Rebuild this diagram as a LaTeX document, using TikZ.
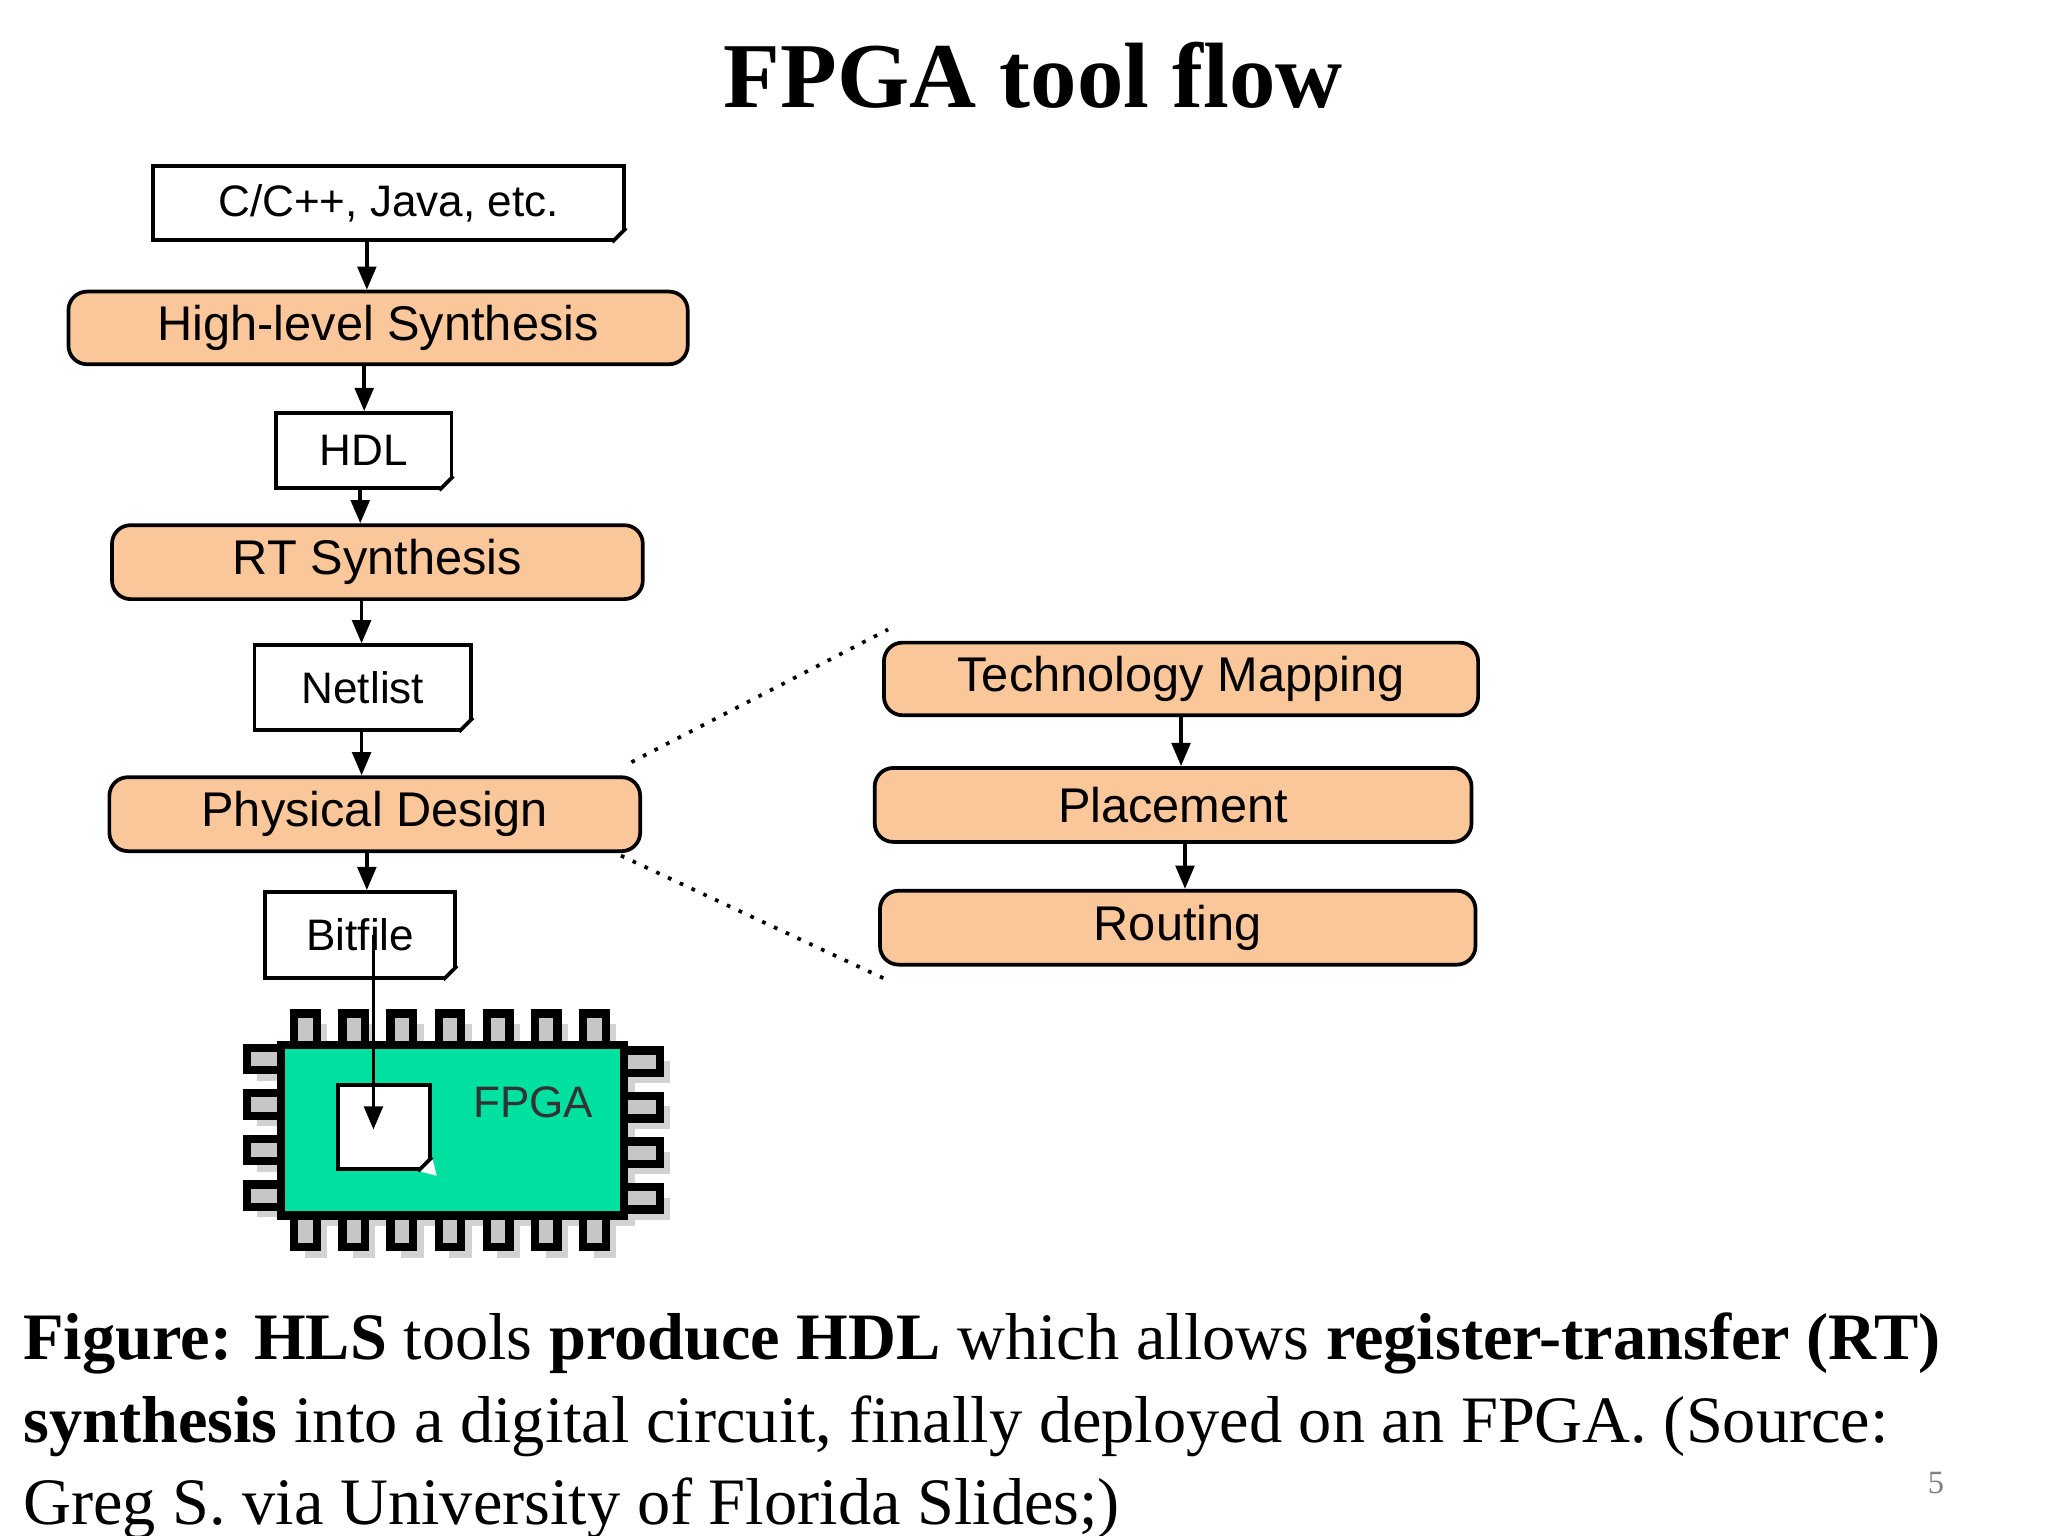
\documentclass[tikz,border=0pt]{standalone}
\usepackage{fontspec}
\setmainfont{Liberation Serif}
\newfontfamily\sansf{Liberation Sans}
\usetikzlibrary{arrows.meta}
\definecolor{org}{HTML}{FAC79A}
\definecolor{chip}{HTML}{00E0A0}
\begin{document}
\begin{tikzpicture}[x=0.01cm,y=-0.01cm,
  doc/.style={draw,thick,fill=white,font=\sansf\fontsize{9.5}{11}\selectfont,inner sep=0},
  stage/.style={draw,thick,fill=org,rounded corners=4,font=\sansf\fontsize{10.5}{12}\selectfont,inner sep=0},
  arr/.style={-{Triangle[length=5pt,width=4pt]},thick},
  pin/.style={draw,line width=1.8pt,fill=gray!45}]
\useasboundingbox (0,0) rectangle (1552,1164);
\node[font=\bfseries\fontsize{20}{24}\selectfont] (title) at (783,57) {FPGA tool flow};
% left chain
\node[doc,minimum width=3.57cm,minimum height=0.56cm] (src) at (294.5,154) {C/C++, Java, etc.};
\node[stage,minimum width=4.69cm,minimum height=0.55cm] (hls) at (286.5,248.5) {High-level Synthesis};
\node[doc,minimum width=1.33cm,minimum height=0.57cm] (hdl) at (275.5,341.5) {HDL};
\node[stage,minimum width=4.02cm,minimum height=0.56cm] (rt) at (286,426) {RT Synthesis};
\node[doc,minimum width=1.64cm,minimum height=0.64cm] (net) at (275,521) {Netlist};
\node[stage,minimum width=4.02cm,minimum height=0.56cm] (pd) at (284,617) {Physical Design};
\node[doc,minimum width=1.44cm,minimum height=0.65cm] (bit) at (273,708.5) {Bitfile};
\foreach \n in {src,hdl,net,bit}{
  \fill[white] ([xshift=-3pt]\n.south east) -- ([yshift=3pt]\n.south east) -- ([xshift=1pt,yshift=-1pt]\n.south east) -- cycle;
  \draw[thick] ([xshift=-3pt]\n.south east) -- ([yshift=3pt]\n.south east);
}
% right chain
\node[stage,minimum width=4.50cm,minimum height=0.55cm] (tm) at (895,514.5) {Technology Mapping};
\node[stage,minimum width=4.52cm,minimum height=0.56cm] (pl) at (889,610) {Placement};
\node[stage,minimum width=4.51cm,minimum height=0.56cm] (ro) at (892.5,703) {Routing};
% arrows
\draw[arr] (src.south -| 278,0) -- (hls.north -| 278,0);
\draw[arr] (hls.south -| 276,0) -- (hdl.north -| 276,0);
\draw[arr] (hdl.south -| 273,0) -- (rt.north -| 273,0);
\draw[arr] (rt.south -| 274,0) -- (net.north -| 274,0);
\draw[arr] (net.south -| 274,0) -- (pd.north -| 274,0);
\draw[arr] (pd.south -| 278,0) -- (bit.north -| 278,0);
\draw[arr] (tm.south -| 895,0) -- (pl.north -| 895,0);
\draw[arr] (pl.south -| 898,0) -- (ro.north -| 898,0);
% dotted
\coordinate (d1) at (673,477);
\coordinate (d2) at (671,742);
\draw[thick,dotted] (pd.north east) ++(-8,-10) -- (d1);
\draw[thick,dotted] (pd.south east) ++(-16,2) -- (d2);
% chip shadow
\begin{scope}[shift={(8,8)}]
  \fill[gray!35] (213,792) rectangle (473,921);
  \foreach \i in {0,...,6}{
    \fill[gray!35] (223+\i*36.5,768) rectangle (240+\i*36.5,792);
    \fill[gray!35] (223+\i*36.5,921) rectangle (240+\i*36.5,945);}
  \foreach \j in {0,...,3}{
    \fill[gray!35] (187,794+\j*34.5) rectangle (213,811+\j*34.5);
    \fill[gray!35] (473,796+\j*34.5) rectangle (500,813+\j*34.5);}
\end{scope}
\foreach \i in {0,...,6}{
  \draw[pin] (223+\i*36.5,768) rectangle (240+\i*36.5,792);
  \draw[pin] (223+\i*36.5,921) rectangle (240+\i*36.5,945);}
\foreach \j in {0,...,3}{
  \draw[pin] (187,794+\j*34.5) rectangle (213,811+\j*34.5);
  \draw[pin] (473,796+\j*34.5) rectangle (500,813+\j*34.5);}
\node[draw,line width=1.8pt,fill=chip,minimum width=2.60cm,minimum height=1.29cm,inner sep=0] (fpga) at (343,856.5) {};
\node[font=\sansf\fontsize{9.5}{11}\selectfont,text=black!80] (ftxt) at (404,835) {FPGA};
\node[draw,thick,fill=white,minimum width=0.70cm,minimum height=0.64cm,inner sep=0] (cfg) at (291,854) {};
\fill[white] ([xshift=-3pt]cfg.south east) -- ([yshift=3pt]cfg.south east) -- ([xshift=1pt,yshift=-1pt]cfg.south east) -- cycle;
\draw[thick] ([xshift=-3pt]cfg.south east) -- ([yshift=3pt]cfg.south east);
\coordinate (tip) at (283,856);
\draw[arr] (bit.center -| tip) -- (tip);
% caption
\begin{scope}[every node/.style={anchor=base west,inner sep=0,font=\fontsize{14.3}{16}\selectfont}]
\node (c1) at (17,1030) {\textbf{Figure: HLS} tools \textbf{produce HDL} which allows \textbf{register-transfer (RT)}};
\node (c2) at (17,1093) {\textbf{synthesis} into a digital circuit, finally deployed on an FPGA. (Source:};
\node (c3) at (17,1155) {Greg S. via University of Florida Slides;)};
\end{scope}
\node[font=\fontsize{7}{8}\selectfont,text=gray] (pg) at (1467,1124) {5};
\end{tikzpicture}
\end{document}
